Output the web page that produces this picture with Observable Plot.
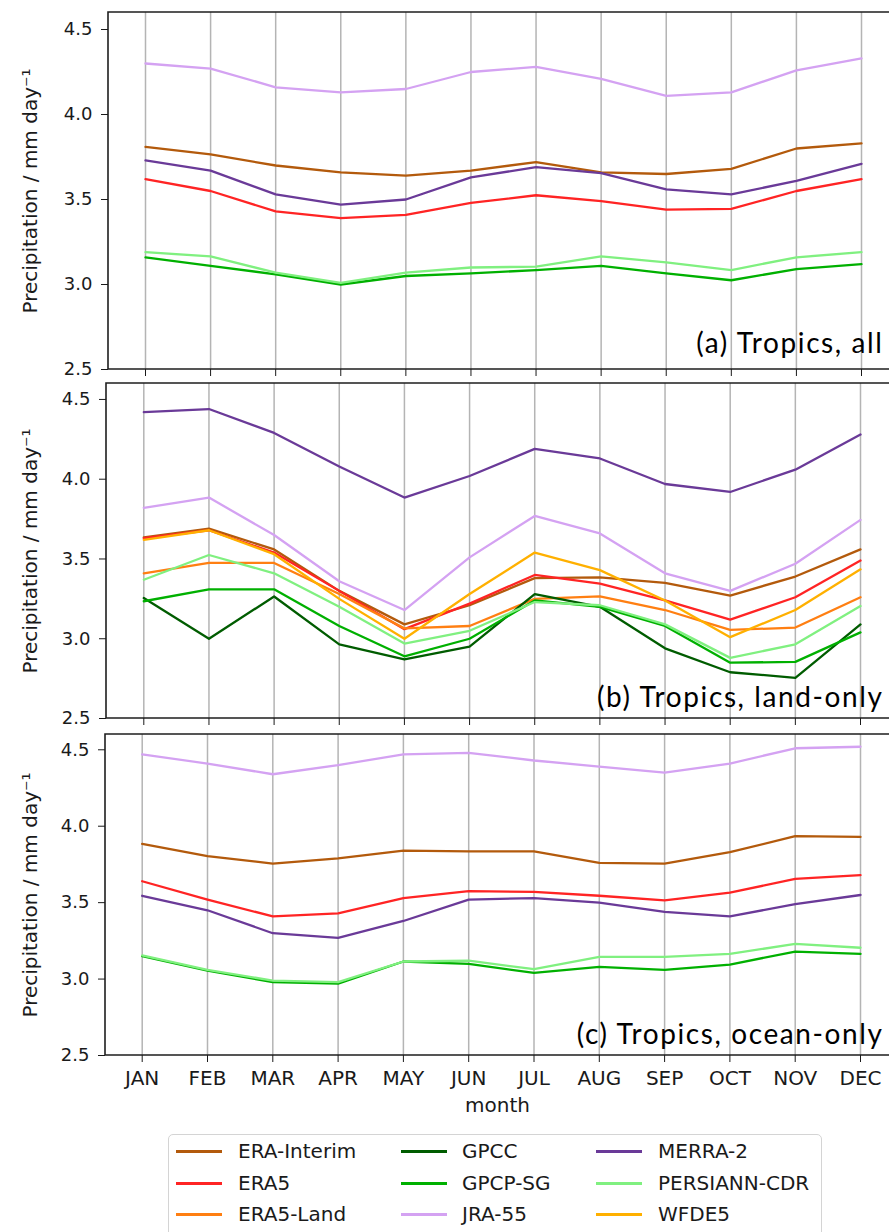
<!DOCTYPE html>
<html><head><meta charset="utf-8">
<script src="https://cdn.jsdelivr.net/npm/d3@7"></script>
<script src="https://cdn.jsdelivr.net/npm/@observablehq/plot@0.6"></script>
<style>
html,body{margin:0;padding:0;background:#fff;overflow:hidden;}
#wrap{position:relative;width:889px;height:1232px;overflow:hidden;font-family:"DejaVu Sans",sans-serif;}
#wrap svg{position:absolute;left:0;overflow:visible;}
.legend{position:absolute;left:168px;top:1134px;width:654px;height:120px;border:1.5px solid #d4d4d4;border-radius:5px;box-sizing:border-box;background:#fff;}
.item{position:absolute;font-size:20px;height:24px;line-height:24px;color:#1a1a1a;white-space:nowrap;font-family:"DejaVu Sans",sans-serif;}
.ln{position:absolute;height:3px;}
</style></head><body><div id="wrap"></div>
<script>
const months = ["JAN","FEB","MAR","APR","MAY","JUN","JUL","AUG","SEP","OCT","NOV","DEC"];
const datasets = ["ERA-Interim","ERA5","ERA5-Land","GPCC","GPCP-SG","JRA-55","MERRA-2","PERSIANN-CDR","WFDE5"];
const colors = ["#b35a0c","#ff2424","#ff7f12","#005c00","#00b000","#d4a2f2","#6a3a98","#80f080","#ffb000"];
const yTicks = [2.5, 3.0, 3.5, 4.0, 4.5];

// (a) Tropics, all
const allEraInterim = [3.81,3.765,3.70,3.66,3.64,3.67,3.72,3.66,3.65,3.68,3.80,3.83];
const allEra5       = [3.62,3.55,3.43,3.39,3.41,3.48,3.525,3.49,3.44,3.445,3.55,3.62];
const allGpcpSg     = [3.16,3.11,3.06,3.00,3.05,3.065,3.085,3.11,3.065,3.025,3.09,3.12];
const allJra55      = [4.30,4.27,4.16,4.13,4.15,4.25,4.28,4.21,4.11,4.13,4.26,4.33];
const allMerra2     = [3.73,3.67,3.53,3.47,3.50,3.63,3.69,3.655,3.56,3.53,3.61,3.71];
const allPersiann   = [3.19,3.165,3.07,3.01,3.07,3.10,3.105,3.165,3.13,3.085,3.16,3.19];

// (b) Tropics, land-only
const landEraInterim = [3.635,3.69,3.56,3.30,3.09,3.21,3.38,3.385,3.35,3.27,3.39,3.56];
const landEra5       = [3.63,3.68,3.54,3.30,3.06,3.22,3.40,3.345,3.24,3.12,3.26,3.49];
const landEra5Land   = [3.41,3.475,3.475,3.28,3.065,3.08,3.25,3.265,3.18,3.055,3.07,3.26];
const landGpcc       = [3.255,3.00,3.265,2.965,2.87,2.95,3.28,3.20,2.94,2.79,2.755,3.09];
const landGpcpSg     = [3.235,3.31,3.31,3.08,2.89,3.00,3.24,3.20,3.08,2.85,2.855,3.04];
const landJra55      = [3.82,3.885,3.65,3.36,3.18,3.51,3.77,3.66,3.41,3.30,3.47,3.745];
const landMerra2     = [4.42,4.44,4.29,4.08,3.885,4.02,4.19,4.13,3.97,3.92,4.06,4.28];
const landPersiann   = [3.37,3.525,3.41,3.20,2.97,3.05,3.23,3.21,3.09,2.88,2.965,3.205];
const landWfde5      = [3.62,3.68,3.53,3.25,3.00,3.28,3.54,3.43,3.24,3.01,3.18,3.435];

// (c) Tropics, ocean-only
const oceanEraInterim = [3.885,3.805,3.755,3.79,3.84,3.835,3.835,3.76,3.755,3.83,3.935,3.93];
const oceanEra5       = [3.64,3.52,3.41,3.43,3.53,3.575,3.57,3.545,3.515,3.565,3.655,3.68];
const oceanGpcpSg     = [3.15,3.055,2.98,2.97,3.115,3.10,3.04,3.08,3.06,3.095,3.18,3.165];
const oceanJra55      = [4.47,4.41,4.34,4.40,4.47,4.48,4.43,4.39,4.35,4.41,4.51,4.52];
const oceanMerra2     = [3.545,3.45,3.30,3.27,3.38,3.52,3.53,3.50,3.44,3.41,3.49,3.55];
const oceanPersiann   = [3.155,3.06,2.99,2.98,3.115,3.12,3.065,3.145,3.145,3.165,3.23,3.205];

const panelA = [["ERA-Interim",allEraInterim],["ERA5",allEra5],["GPCP-SG",allGpcpSg],["JRA-55",allJra55],["MERRA-2",allMerra2],["PERSIANN-CDR",allPersiann]];
const panelB = [["ERA-Interim",landEraInterim],["ERA5",landEra5],["ERA5-Land",landEra5Land],["GPCC",landGpcc],["GPCP-SG",landGpcpSg],["JRA-55",landJra55],["MERRA-2",landMerra2],["PERSIANN-CDR",landPersiann],["WFDE5",landWfde5]];
const panelC = [["ERA-Interim",oceanEraInterim],["ERA5",oceanEra5],["GPCP-SG",oceanGpcpSg],["JRA-55",oceanJra55],["MERRA-2",oceanMerra2],["PERSIANN-CDR",oceanPersiann]];

function frame3(index, scales, values, dims) {
  const {marginLeft: l, marginTop: t, width: w, height: h, marginBottom: b, marginRight: r} = dims;
  return d3.create("svg:path")
    .attr("d", `M${w - r},${t}H${l}V${h - b}H${w - r}`)
    .attr("fill", "none").attr("stroke", "#1e1e1e").attr("stroke-width", 1.6).node();
}

function panel(cfg) {
  const rows = [];
  cfg.data.forEach(([name, vals]) => vals.forEach((v, i) => rows.push({name, m: i + 1, v})));
  const marks = [
    Plot.ruleX(d3.range(1, 13), {stroke: "#b4b4b4", strokeWidth: 1.5}),
    Plot.lineY(rows, {x: "m", y: "v", z: "name", stroke: "name", strokeWidth: 2.3}),
    frame3,
    Plot.axisY({ticks: yTicks, tickFormat: d3.format(".1f"), tickSize: 7, tickPadding: 9, label: null, fontSize: 18}),
    Plot.axisX({ticks: d3.range(1, 13), tickFormat: cfg.showX ? (d => months[d - 1]) : (() => ""), tickSize: 7, tickPadding: 8, label: null, fontSize: 20}),
    Plot.text([cfg.label], {frameAnchor: "bottom-right", dx: -6, dy: cfg.labelDy, lineAnchor: "bottom", textAnchor: "end", fontFamily: "Lato", fontSize: 28, fill: "#000"}),
    Plot.text(["Precipitation / mm day⁻¹"], {frameAnchor: "left", dx: cfg.ylabelDx, rotate: -90, textAnchor: "middle", lineAnchor: "middle", fontSize: 20, fill: "#1a1a1a"})
  ];
  if (cfg.showX) marks.push(Plot.text(["month"], {frameAnchor: "bottom", dy: 50, lineAnchor: "middle", fontSize: 20, fill: "#1a1a1a"}));
  const svg = Plot.plot({
    width: 889, height: cfg.height,
    marginTop: cfg.mTop, marginBottom: cfg.mBottom, marginLeft: cfg.left, marginRight: 0,
    style: {fontFamily: "DejaVu Sans", fontSize: "18px", color: "#1a1a1a", background: "transparent", overflow: "visible"},
    x: {type: "linear", domain: [1, 12], range: [cfg.x0, cfg.x1]},
    y: {domain: [2.5, 4.6], range: [cfg.height - cfg.mBottom, cfg.mTop]},
    color: {domain: datasets, range: colors},
    marks
  });
  svg.querySelectorAll('[font-family="Lato"]').forEach(e => e.setAttribute("letter-spacing", "1.6"));
  svg.style.top = cfg.top + "px";
  return svg;
}

const wrap = document.getElementById("wrap");
wrap.appendChild(panel({data: panelA, top: 0, height: 380, mTop: 12, mBottom: 11, left: 108, x0: 145, x1: 861, label: "(a) Tropics, all", labelDy: -17, showX: false, ylabelDx: -78}));
wrap.appendChild(panel({data: panelB, top: 372, height: 354, mTop: 11, mBottom: 8, left: 106, x0: 143.3, x1: 860, label: "(b) Tropics, land-only", labelDy: -12, showX: false, ylabelDx: -76}));
wrap.appendChild(panel({data: panelC, top: 726, height: 400, mTop: 8, mBottom: 71, left: 105, x0: 141.7, x1: 860, label: "(c) Tropics, ocean-only", labelDy: -12, showX: true, ylabelDx: -75}));

// legend
const legend = document.createElement("div");
legend.className = "legend";
const colLine = [7, 232, 427], colText = [69, 293, 489], rowC = [16, 48, 79];
datasets.forEach((name, i) => {
  const c = Math.floor(i / 3), r = i % 3;
  const ln = document.createElement("div");
  ln.className = "ln";
  ln.style.left = colLine[c] + "px"; ln.style.width = "46px";
  ln.style.top = (rowC[r] - 1.5) + "px"; ln.style.background = colors[i];
  legend.appendChild(ln);
  const t = document.createElement("div");
  t.className = "item";
  t.style.left = colText[c] + "px"; t.style.top = (rowC[r] - 12) + "px";
  t.textContent = name;
  legend.appendChild(t);
});
wrap.appendChild(legend);
</script></body></html>
